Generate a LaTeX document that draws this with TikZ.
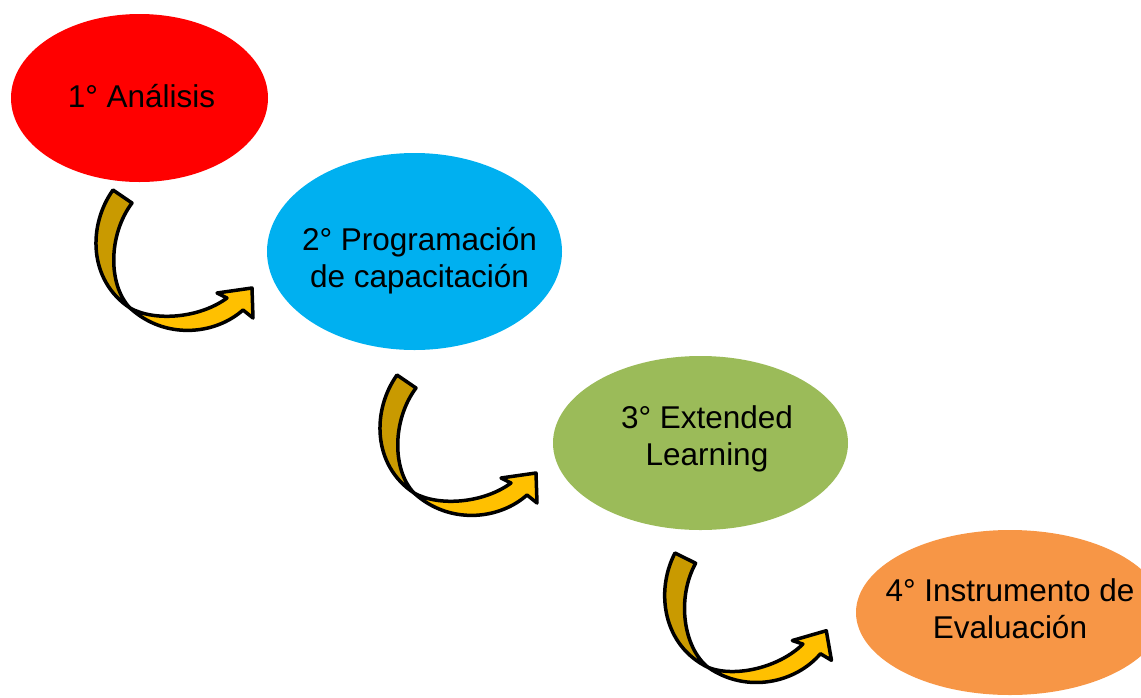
\documentclass[tikz,border=0pt]{standalone}
\usepackage{fontspec}
\setmainfont{Liberation Sans}
\usetikzlibrary{shapes.geometric}
\definecolor{cred}{HTML}{FF0000}
\definecolor{cblue}{HTML}{00B0F0}
\definecolor{cgreen}{HTML}{9BBB59}
\definecolor{corange}{HTML}{F79646}
\definecolor{cgold}{HTML}{C99A00}
\definecolor{cyell}{HTML}{FFC000}
\tikzset{
  stage/.style={ellipse, inner sep=0pt, outer sep=0pt},
  stagetext/.style={inner sep=0pt, align=center, anchor=base, font=\fontsize{31.5}{36.5}\selectfont},
  arrowline/.style={draw=black, line width=3.5pt, line join=round},
  bendarrow/.pic={
    \draw[arrowline, fill=cgold] (0,0) .. controls (-25,35) and (-25,90) .. (17,118)
       .. controls (-5,95) and (-5,45) .. (19,13) -- cycle;
    \draw[arrowline, fill=cyell] (17,118) .. controls (42,132) and (87,128) .. (114,108)
       -- (104,103) -- (139,98) -- (140,128) -- (130,120)
       .. controls (102,145) and (52,150) .. (17,118) -- cycle;
  }
}
\begin{document}
\begin{tikzpicture}[x=1pt,y=-1pt]
\useasboundingbox (0,0) rectangle (1141,697);
\clip (0,0) rectangle (1141,697);
\node[stage, fill=cred, minimum width=257pt, minimum height=168pt] (s1) at (139.5,98) {};
\node[stage, fill=cblue, minimum width=295pt, minimum height=197pt] (s2) at (414.5,251.5) {};
\node[stage, fill=cgreen, minimum width=295pt, minimum height=174pt] (s3) at (700.5,443) {};
\node[stage, fill=corange, minimum width=308pt, minimum height=165pt] (s4) at (1010,612.5) {};
\node[stagetext] (t1) at (141.5,107) {1° Análisis};
\node[stagetext] (t2) at (419.5,287) {2° Programación\\de capacitación};
\node[stagetext] (t3) at (707,465) {3° Extended\\Learning};
\node[stagetext] (t4) at (1010,638) {4° Instrumento de\\Evaluación};
\pic at (113,190) {bendarrow};
\pic at (397,375) {bendarrow};
\pic[rotate=8] at (675,553) {bendarrow};
\end{tikzpicture}
\end{document}
